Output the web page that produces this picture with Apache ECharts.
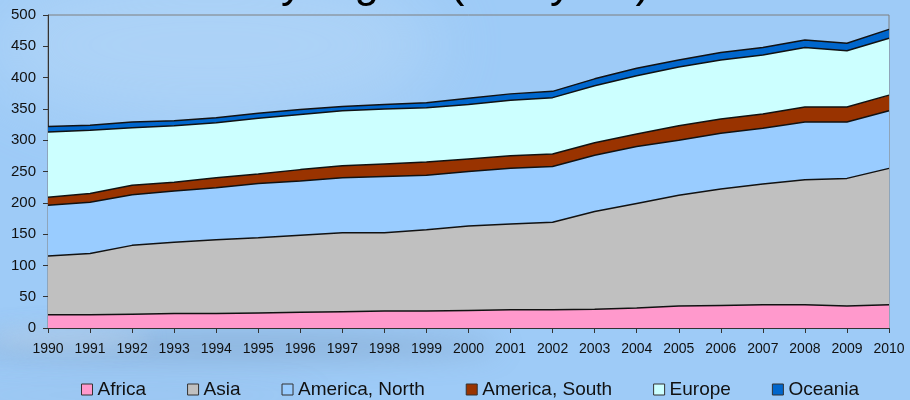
<!DOCTYPE html>
<html>
<head>
<meta charset="utf-8">
<title>Production by region</title>
<script src="https://cdn.jsdelivr.net/npm/echarts@6/dist/echarts.min.js"></script>
<style>
  html, body { margin: 0; padding: 0; background: #9ecbf7; }
  #chart { width: 910px; height: 400px; }
</style>
</head>
<body>
<div id="chart"></div>
<script>
const years = ['1990', '1991', '1992', '1993', '1994', '1995', '1996', '1997', '1998', '1999', '2000',
  '2001', '2002', '2003', '2004', '2005', '2006', '2007', '2008', '2009', '2010']
const yTicks = [0, 50, 100, 150, 200, 250, 300, 350, 400, 450, 500]

const africa = [21, 21, 22, 23, 23, 24, 25, 26, 27, 27, 28, 29, 29, 30, 32, 35, 36, 37, 37, 35, 37]
const asia = [94, 98, 110, 114, 118, 120, 123, 126, 125, 130, 135, 137, 140, 156, 167, 177, 186, 193, 200, 204, 218]
const northAmerica = [81, 82, 81, 82, 83, 87, 87, 88, 90, 87, 87, 89, 89, 90, 91, 88, 89, 89, 92, 90, 92]
const southAmerica = [13, 14, 15, 14, 16, 15, 18, 19, 20, 21, 20, 20, 20, 20, 20, 23, 23, 23, 24, 24, 25]
const europe = [104, 101, 92, 90, 88, 89, 88, 88, 88, 87, 87, 89, 90, 91, 93, 94, 94, 94, 95, 90, 91]
const oceania = [9, 8, 9, 8, 8, 8, 8, 7, 7, 8, 10, 10, 10, 11, 12, 11, 12, 12, 12, 12, 14]

const regionNames = ['Africa', 'Asia', 'America, North', 'America, South', 'Europe', 'Oceania']
const regionData = [africa, asia, northAmerica, southAmerica, europe, oceania]
const regionColors = ['#ff99cc', '#c0c0c0', '#99ccff', '#993300', '#ccffff', '#0066cc']

const font = '"Liberation Sans", Arial, sans-serif'

const chart = echarts.init(document.getElementById('chart'))

// sky-ish backdrop: blurred blobs, the shape itself sits off canvas and only its shadow shows
const backdrop = [
  { cx: 210, cy: 45, rx: 230, ry: 80, color: 'rgba(188,218,246,0.7)', blur: 70 },
  { cx: 230, cy: 346, rx: 270, ry: 14, color: 'rgba(110,135,165,0.6)', blur: 28 },
  { cx: 70, cy: 338, rx: 80, ry: 10, color: 'rgba(215,228,240,0.6)', blur: 20 },
  { cx: 120, cy: 395, rx: 200, ry: 12, color: 'rgba(130,158,190,0.35)', blur: 30 }
].map((b) => ({
  type: 'ellipse',
  z: -10,
  silent: true,
  shape: { cx: b.cx - 2000, cy: b.cy, rx: b.rx, ry: b.ry },
  style: {
    fill: b.color,
    shadowColor: b.color,
    shadowBlur: b.blur,
    shadowOffsetX: 2000
  }
}))

const option = {
  animation: false,
  backgroundColor: '#9ecbf7',
  graphic: [
    ...backdrop,
    {
      // title line sits mostly above the canvas, only its descenders show
      type: 'text',
      x: 34,
      y: -15,
      silent: true,
      style: {
        text: 'Production by region (Mt / year)',
        font: '44px ' + font,
        fill: '#000',
        verticalAlign: 'middle'
      }
    }
  ],
  grid: {
    left: 48,
    right: 21,
    top: 15,
    bottom: 72,
    show: true,
    borderColor: '#7f7f7f',
    borderWidth: 1,
    backgroundColor: 'transparent'
  },
  legend: {
    left: 76,
    top: 375,
    itemGap: 41,
    itemWidth: 11,
    itemHeight: 11,
    icon: 'rect',
    selectedMode: false,
    textStyle: { color: '#111', fontFamily: font, fontSize: 19 },
    data: regionNames.map((name, i) => ({
      name,
      itemStyle: { color: regionColors[i], borderColor: '#333', borderWidth: 1 }
    }))
  },
  xAxis: {
    type: 'category',
    boundaryGap: false,
    data: years,
    axisLine: { lineStyle: { color: '#333', width: 1 } },
    axisTick: { show: true, length: 5, alignWithLabel: true, lineStyle: { color: '#333' } },
    axisLabel: { color: '#111', fontFamily: font, fontSize: 14, margin: 14, interval: 0 }
  },
  yAxis: {
    type: 'value',
    min: yTicks[0],
    max: yTicks[yTicks.length - 1],
    interval: yTicks[1] - yTicks[0],
    axisLine: { show: true, lineStyle: { color: '#333', width: 1 } },
    axisTick: { show: true, length: 5, lineStyle: { color: '#333' } },
    axisLabel: { color: '#111', fontFamily: font, fontSize: 15, margin: 12 },
    splitLine: { show: false }
  },
  series: regionNames.map((name, i) => ({
    name,
    type: 'line',
    stack: 'total',
    data: regionData[i],
    showSymbol: false,
    symbol: 'none',
    lineStyle: { color: '#111', width: 1.5 },
    itemStyle: { color: regionColors[i] },
    areaStyle: { color: regionColors[i], opacity: 1 }
  }))
}

chart.setOption(option)
window.addEventListener('resize', () => chart.resize())
</script>
</body>
</html>
